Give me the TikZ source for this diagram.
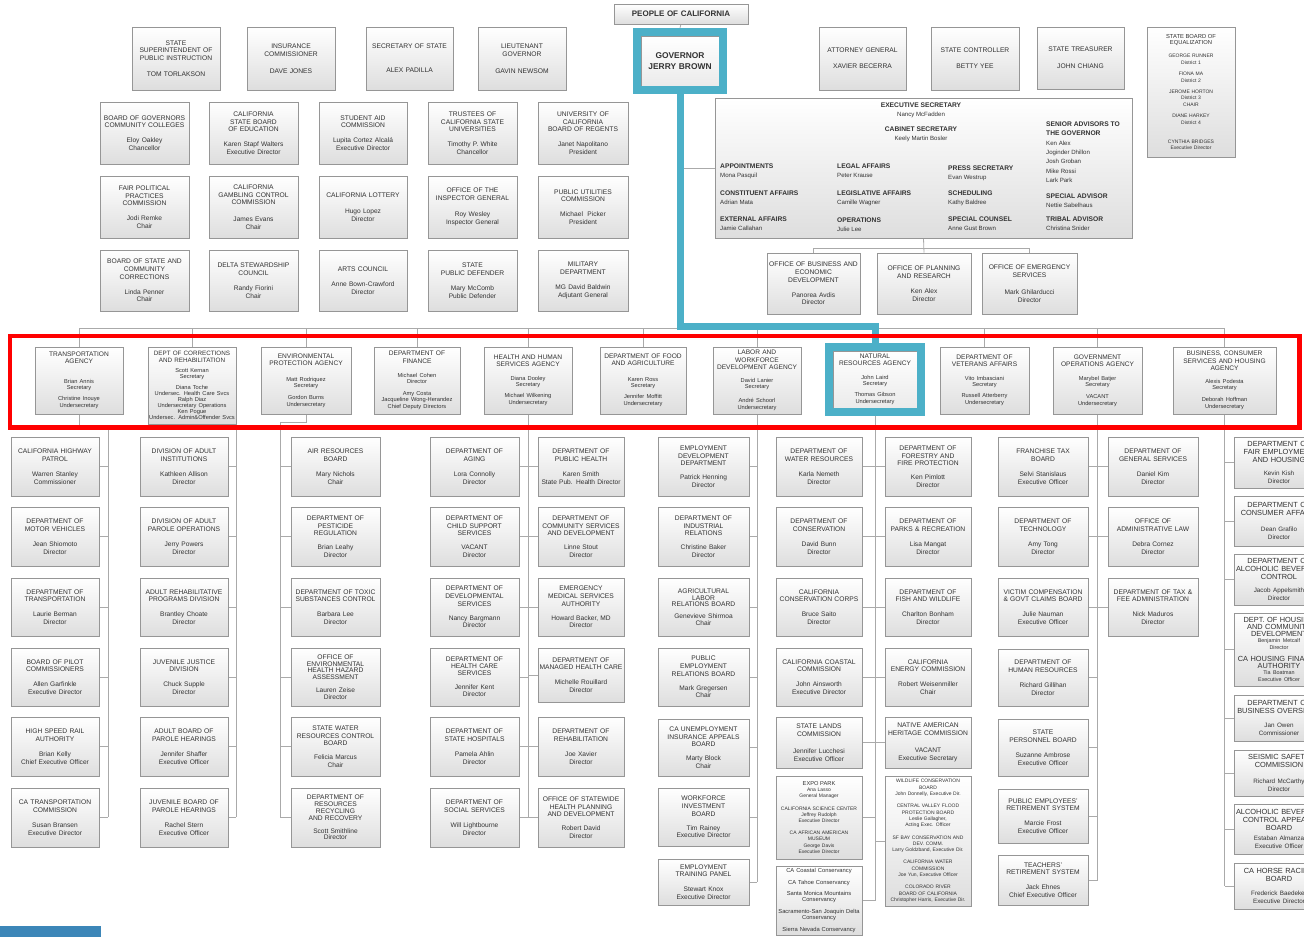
\documentclass[tikz,border=0pt]{standalone}
\usepackage{fontspec}
\setmainfont{Liberation Sans}
\usetikzlibrary{shadows}
\definecolor{tealc}{RGB}{76,176,200}
\definecolor{txt}{RGB}{50,50,50}
\definecolor{brd}{RGB}{150,150,150}
\definecolor{lnc}{RGB}{170,170,170}
\definecolor{barblue}{RGB}{60,134,184}
\newcommand\ftT{\fontsize{6.7}{7.8}\selectfont}
\newcommand\ftN{\fontsize{6.6}{7.8}\selectfont}
\newcommand\ftAT{\fontsize{6.6}{7.2}\selectfont}
\newcommand\ftAN{\fontsize{5.7}{6.3}\selectfont}
\newcommand\ftS{\fontsize{5}{6.2}\selectfont}
\newcommand\ftB{\fontsize{7.4}{7.6}\selectfont}
\newcommand\ftBN{\fontsize{6.3}{7.6}\selectfont}
\newcommand\ftEN{\fontsize{6.1}{9.4}\selectfont}
\newcommand\eh[1]{{\bfseries\fontsize{6.7}{9.4}\selectfont #1}}
\newcommand\tn[3][7pt]{#2\\[#1]{\ftN #3}}
\newcommand\bn[3][6pt]{#2\\[#1]{\ftBN #3}}
\newcommand\orgb[7][]{%
  \pgfmathsetmacro\obw{#5-#3}%
  \pgfmathsetmacro\obh{#6-#4}%
  \pgfmathsetmacro\obx{(#3+#5)/2}%
  \pgfmathsetmacro\oby{(#4+#6)/2}%
  \node[ob,text width=\obw pt,minimum width=\obw pt,minimum height=\obh pt,#1] (#2) at (\obx,\oby) {#7};}
\pgfdeclarelayer{bg}
\pgfdeclarelayer{lines}
\pgfdeclarelayer{teal}
\pgfdeclarelayer{top}
\pgfsetlayers{bg,lines,teal,main,top}
\tikzset{
  ob/.style={draw=brd, line width=0.6pt, top color=white, bottom color=black!13,
    inner xsep=0pt, inner ysep=0pt, align=center, text=txt, font=\ftT,
    drop shadow={shadow xshift=0.9pt, shadow yshift=-0.9pt, fill=black, opacity=0.22}},
  cn/.style={draw=lnc, line width=0.8pt},
  tealline/.style={draw=tealc, line width=7pt},
  tealframe/.style={draw=tealc, line width=7.6pt},
  lbl/.style={inner sep=0pt, align=left, text=txt, font=\ftEN, anchor=north west},
  lblc/.style={inner sep=0pt, align=center, text=txt, font=\ftEN, anchor=north},
}
\begin{document}
\begin{tikzpicture}[x=1pt,y=-1pt]
\useasboundingbox (0,0) rectangle (1304,937);
\begin{pgfonlayer}{bg}\fill[white] (0,0) rectangle (1304,937);\end{pgfonlayer}

% ---------- top ----------
\orgb[font=\bfseries\fontsize{8}{9}\selectfont]{people}{614}{4}{748}{24}{PEOPLE OF CALIFORNIA}
\orgb[font=\bfseries\fontsize{8.4}{10.5}\selectfont, bottom color=black!8]{gov}{641}{36}{719}{86}{GOVERNOR\\JERRY BROWN}

\orgb{ssp}{132}{27}{220}{90}{STATE\\SUPERINTENDENT OF\\PUBLIC INSTRUCTION\\[8pt]TOM TORLAKSON}
\orgb{ins}{247}{27}{335}{90}{INSURANCE\\COMMISSIONER\\[9pt]DAVE JONES}
\orgb{sos}{366}{27}{453}{90}{SECRETARY OF STATE\\[16pt]ALEX PADILLA}
\orgb{ltg}{478}{27}{566}{90}{LIEUTENANT\\GOVERNOR\\[9pt]GAVIN NEWSOM}
\orgb{ag}{819}{27}{906}{90}{ATTORNEY GENERAL\\[8pt]XAVIER BECERRA}
\orgb{sc}{931}{27}{1019}{90}{STATE CONTROLLER\\[8pt]BETTY YEE}
\orgb{st}{1037}{27}{1124}{89}{STATE TREASURER\\[9pt]JOHN CHIANG}
\orgb[font=\ftS]{boe}{1147}{27}{1235}{157}{{\fontsize{5.8}{7.6}\selectfont STATE BOARD OF\\EQUALIZATION}\\[7pt]GEORGE RUNNER\\District 1\\[5.5pt]FIONA MA\\District 2\\[5.5pt]JEROME HORTON\\District 3\\CHAIR\\[5.5pt]DIANE HARKEY\\District 4\\[13pt]CYNTHIA BRIDGES\\Executive Director}

\orgb{bgcc}{100}{102}{189}{164}{\tn{BOARD OF GOVERNORS\\COMMUNITY COLLEGES}{Eloy Oakley\\Chancellor}}
\orgb{csbe}{209}{102}{298}{164}{\tn{CALIFORNIA\\STATE BOARD\\OF EDUCATION}{Karen Stapf Walters\\Executive Director}}
\orgb{sac}{319}{102}{407}{164}{\tn{STUDENT AID\\COMMISSION}{Lupita Cortez Alcalá\\Executive Director}}
\orgb{csu}{428}{102}{517}{164}{\tn{TRUSTEES OF\\CALIFORNIA STATE\\UNIVERSITIES}{Timothy P. White\\Chancellor}}
\orgb{uc}{538}{102}{628}{164}{\tn{UNIVERSITY OF\\CALIFORNIA\\BOARD OF REGENTS}{Janet Napolitano\\President}}

\orgb{fppc}{100}{176}{189}{238}{\tn{FAIR POLITICAL\\PRACTICES\\COMMISSION}{Jodi Remke\\Chair}}
\orgb{gcc}{209}{176}{298}{238}{\tn[9pt]{CALIFORNIA\\GAMBLING CONTROL\\COMMISSION}{James Evans\\Chair}}
\orgb{lot}{319}{176}{407}{238}{\tn[9pt]{CALIFORNIA LOTTERY}{Hugo Lopez\\Director}}
\orgb{oig}{428}{176}{517}{238}{\tn[8pt]{OFFICE OF THE\\INSPECTOR GENERAL}{Roy Wesley\\Inspector General}}
\orgb{puc}{538}{176}{628}{238}{\tn[7pt]{PUBLIC UTILITIES\\COMMISSION}{Michael\ \ Picker\\President}}

\orgb{bscc}{100}{250}{189}{311}{\tn{BOARD OF STATE AND\\COMMUNITY\\CORRECTIONS}{Linda Penner\\Chair}}
\orgb{dsc}{209}{250}{298}{311}{\tn{DELTA STEWARDSHIP\\COUNCIL}{Randy Fiorini\\Chair}}
\orgb{arts}{319}{250}{407}{311}{\tn{ARTS COUNCIL}{Anne Bown-Crawford\\Director}}
\orgb{spd}{428}{250}{517}{311}{\tn{STATE\\PUBLIC DEFENDER}{Mary McComb\\Public Defender}}
\orgb{mil}{538}{250}{628}{311}{\tn{MILITARY\\DEPARTMENT}{MG David Baldwin\\Adjutant General}}

% executive box
\orgb{exec}{715}{98}{1132}{238}{}
\node[lblc] (t-es) at (921,102.5) {\eh{EXECUTIVE SECRETARY}\\Nancy McFadden};
\node[lblc] (t-cs) at (921,126.5) {\eh{CABINET SECRETARY}\\Keely Martin Bosler};
\node[lbl] (t-ap) at (720,163.5) {\eh{APPOINTMENTS}\\Mona Pasquil};
\node[lbl] (t-ca) at (720,190.5) {\eh{CONSTITUENT AFFAIRS}\\Adrian Mata};
\node[lbl] (t-ea) at (720,216.5) {\eh{EXTERNAL AFFAIRS}\\Jamie Callahan};
\node[lbl] (t-la) at (837,163.5) {\eh{LEGAL AFFAIRS}\\Peter Krause};
\node[lbl] (t-lg) at (837,190.5) {\eh{LEGISLATIVE AFFAIRS}\\Camille Wagner};
\node[lbl] (t-op) at (837,217.5) {\eh{OPERATIONS}\\Julie Lee};
\node[lbl] (t-ps) at (948,165.5) {\eh{PRESS SECRETARY}\\Evan Westrup};
\node[lbl] (t-sh) at (948,190.5) {\eh{SCHEDULING}\\Kathy Baldree};
\node[lbl] (t-sp) at (948,216.5) {\eh{SPECIAL COUNSEL}\\Anne Gust Brown};
\node[lbl] (t-sa) at (1046,121.5) {\eh{SENIOR ADVISORS TO}\\\eh{THE GOVERNOR}\\Ken Alex\\Joginder Dhillon\\Josh Groban\\Mike Rossi\\Lark Park};
\node[lbl] (t-sv) at (1046,193.5) {\eh{SPECIAL ADVISOR}\\Nettie Sabelhaus};
\node[lbl] (t-tr) at (1046,216.5) {\eh{TRIBAL ADVISOR}\\Christina Snider};

\orgb{obed}{767}{253}{860}{314}{\tn{OFFICE OF BUSINESS AND\\ECONOMIC\\DEVELOPMENT}{Panorea Avdis\\Director}}
\orgb{opr}{877}{253}{971}{314}{\tn{OFFICE OF PLANNING\\AND RESEARCH}{Ken Alex\\Director}}
\orgb{oes}{982}{253}{1077}{314}{\tn[9pt]{OFFICE OF EMERGENCY\\SERVICES}{Mark Ghilarducci\\Director}}

% ---------- agencies ----------
\orgb[font=\ftAT]{tra}{35}{347}{123}{414}{TRANSPORTATION\\AGENCY\\[13pt]{\ftAN Brian Annis\\Secretary\\[5pt]Christine Inouye\\Undersecretary}}
\orgb[font=\fontsize{6.3}{6.4}\selectfont]{corr}{148}{347}{236}{424}{DEPT OF CORRECTIONS\\AND REHABILITATION\\[5pt]{\fontsize{5.7}{5.9}\selectfont Scott Kernan\\Secretary\\[5pt]Diana Toche\\Undersec. Health Care Svcs\\Ralph Diaz\\Undersecretary Operations\\Ken Pogue\\Undersec. Admin\&Offender Svcs}}
\orgb[font=\ftAT]{env}{261}{347}{351}{414}{ENVIRONMENTAL\\PROTECTION AGENCY\\[10pt]{\ftAN Matt Rodriquez\\Secretary\\[5pt]Gordon Burns\\Undersecretary}}
\orgb[font=\ftAT]{fin}{374}{347}{460}{414}{DEPARTMENT OF\\FINANCE\\[8pt]{\ftAN Michael Cohen\\Director\\[5pt]Amy Costa\\Jacqueline Wong-Herandez\\Chief Deputy Directors}}
\orgb[font=\ftAT]{hhs}{484}{347}{572}{414}{HEALTH AND HUMAN\\SERVICES AGENCY\\[7pt]{\ftAN Diana Dooley\\Secretary\\[5pt]Michael Wilkening\\Undersecretary}}
\orgb[font=\ftAT]{food}{600}{347}{686}{414}{DEPARTMENT OF FOOD\\AND AGRICULTURE\\[9pt]{\ftAN Karen Ross\\Secretary\\[5pt]Jennifer Moffitt\\Undersecretary}}
\orgb[font=\ftAT]{labor}{713}{347}{801}{414}{LABOR AND\\WORKFORCE\\DEVELOPMENT AGENCY\\[7pt]{\ftAN David Lanier\\Secretary\\[7pt]André Schoorl\\Undersecretary}}
\orgb[font=\ftAT, bottom color=black!8]{nra}{833}{351}{917}{408}{NATURAL\\RESOURCES AGENCY\\[7pt]{\ftAN John Laird\\Secretary\\[5pt]Thomas Gibson\\Undersecretary}}
\orgb[font=\ftAT]{vet}{940}{347}{1029}{414}{DEPARTMENT OF\\VETERANS AFFAIRS\\[7pt]{\ftAN Vito Imbasciani\\Secretary\\[5pt]Russell Atterberry\\Undersecretary}}
\orgb[font=\ftAT]{gops}{1053}{347}{1142}{414}{GOVERNMENT\\OPERATIONS AGENCY\\[8pt]{\ftAN Marybel Batjer\\Secretary\\[5pt]VACANT\\Undersecretary}}
\orgb[font=\ftAT]{bus}{1173}{347}{1276}{414}{BUSINESS, CONSUMER\\SERVICES AND HOUSING\\AGENCY\\[7pt]{\ftAN Alexis Podesta\\Secretary\\[5pt]Deborah Hoffman\\Undersecretary}}

% ---------- transportation column ----------
\orgb{tb1}{11}{437}{99}{496}{\tn{CALIFORNIA HIGHWAY\\PATROL}{Warren Stanley\\Commissioner}}
\orgb{tb2}{11}{507}{99}{566}{\tn{DEPARTMENT OF\\MOTOR VEHICLES}{Jean Shiomoto\\Director}}
\orgb{tb3}{11}{578}{99}{636}{\tn{DEPARTMENT OF\\TRANSPORTATION}{Laurie Berman\\Director}}
\orgb{tb4}{11}{648}{99}{706}{\tn{BOARD OF PILOT\\COMMISSIONERS}{Allen Garfinkle\\Executive Director}}
\orgb{tb5}{11}{717}{99}{776}{\tn{HIGH SPEED RAIL\\AUTHORITY}{Brian Kelly\\Chief Executive Officer}}
\orgb{tb6}{11}{788}{99}{847}{\tn{CA TRANSPORTATION\\COMMISSION}{Susan Bransen\\Executive Director}}

% ---------- corrections column ----------
\orgb{cb1}{140}{437}{228}{496}{\tn{DIVISION OF ADULT\\INSTITUTIONS}{Kathleen Allison\\Director}}
\orgb{cb2}{140}{507}{228}{566}{\tn{DIVISION OF ADULT\\PAROLE OPERATIONS}{Jerry Powers\\Director}}
\orgb{cb3}{140}{578}{228}{636}{\tn{ADULT REHABILITATIVE\\PROGRAMS DIVISION}{Brantley Choate\\Director}}
\orgb{cb4}{140}{648}{228}{706}{\tn{JUVENILE JUSTICE\\DIVISION}{Chuck Supple\\Director}}
\orgb{cb5}{140}{717}{228}{776}{\tn{ADULT BOARD OF\\PAROLE HEARINGS}{Jennifer Shaffer\\Executive Officer}}
\orgb{cb6}{140}{788}{228}{847}{\tn{JUVENILE BOARD OF\\PAROLE HEARINGS}{Rachel Stern\\Executive Officer}}

% ---------- environmental column ----------
\orgb{eb1}{291}{437}{380}{496}{\tn{AIR RESOURCES\\BOARD}{Mary Nichols\\Chair}}
\orgb{eb2}{291}{507}{380}{566}{\tn[6pt]{DEPARTMENT OF\\PESTICIDE\\REGULATION}{Brian Leahy\\Director}}
\orgb{eb3}{291}{578}{380}{636}{\tn{DEPARTMENT OF TOXIC\\SUBSTANCES CONTROL}{Barbara Lee\\Director}}
\orgb[font=\fontsize{6.7}{6.8}\selectfont]{eb4}{291}{648}{380}{706}{OFFICE OF\\ENVIRONMENTAL\\HEALTH HAZARD\\ASSESSMENT\\[6pt]{\fontsize{6.6}{7}\selectfont Lauren Zeise\\Director}}
\orgb{eb5}{291}{717}{380}{776}{\tn[6pt]{STATE WATER\\RESOURCES CONTROL\\BOARD}{Felicia Marcus\\Chair}}
\orgb[font=\fontsize{6.7}{6.8}\selectfont]{eb6}{291}{788}{380}{847}{DEPARTMENT OF\\RESOURCES\\RECYCLING\\AND RECOVERY\\[6pt]{\fontsize{6.6}{7}\selectfont Scott Smithline\\Director}}

% ---------- HHS ----------
\orgb{hl1}{430}{437}{519}{496}{\tn{DEPARTMENT OF\\AGING}{Lora Connolly\\Director}}
\orgb{hl2}{430}{507}{519}{566}{\tn[6pt]{DEPARTMENT OF\\CHILD SUPPORT\\SERVICES}{VACANT\\Director}}
\orgb{hl3}{430}{578}{519}{636}{\tn[6pt]{DEPARTMENT OF\\DEVELOPMENTAL\\SERVICES}{Nancy Bargmann\\Director}}
\orgb[font=\fontsize{6.7}{7}\selectfont]{hl4}{430}{648}{519}{706}{\tn[6pt]{DEPARTMENT OF\\HEALTH CARE\\SERVICES}{Jennifer Kent\\Director}}
\orgb{hl5}{430}{717}{519}{776}{\tn{DEPARTMENT OF\\STATE HOSPITALS}{Pamela Ahlin\\Director}}
\orgb{hl6}{430}{788}{519}{847}{\tn{DEPARTMENT OF\\SOCIAL SERVICES}{Will Lightbourne\\Director}}
\orgb{hr1}{538}{437}{624}{496}{\tn{DEPARTMENT OF\\PUBLIC HEALTH}{Karen Smith\\State Pub. Health Director}}
\orgb{hr2}{538}{507}{624}{566}{\tn[6pt]{DEPARTMENT OF\\COMMUNITY SERVICES\\AND DEVELOPMENT}{Linne Stout\\Director}}
\orgb{hr3}{538}{578}{624}{636}{\tn[6pt]{EMERGENCY\\MEDICAL SERVICES\\AUTHORITY}{Howard Backer, MD\\Director}}
\orgb{hr4}{538}{648}{624}{702}{\tn{DEPARTMENT OF\\MANAGED HEALTH CARE}{Michelle Rouillard\\Director}}
\orgb{hr5}{538}{717}{624}{776}{\tn{DEPARTMENT OF\\REHABILITATION}{Joe Xavier\\Director}}
\orgb{hr6}{538}{788}{624}{847}{\tn[6pt]{OFFICE OF STATEWIDE\\HEALTH PLANNING\\AND DEVELOPMENT}{Robert David\\Director}}

% ---------- labor ----------
\orgb{lb1}{658}{437}{749}{496}{\tn[6pt]{EMPLOYMENT\\DEVELOPMENT\\DEPARTMENT}{Patrick Henning\\Director}}
\orgb{lb2}{658}{507}{749}{566}{\tn[6pt]{DEPARTMENT OF\\INDUSTRIAL\\RELATIONS}{Christine Baker\\Director}}
\orgb[font=\fontsize{6.7}{6.8}\selectfont]{lb3}{658}{578}{749}{636}{AGRICULTURAL\\LABOR\\RELATIONS BOARD\\[5pt]{\fontsize{6.6}{6.8}\selectfont Genevieve Shirmoa\\Chair}}
\orgb{lb4}{658}{648}{749}{706}{\tn[6pt]{PUBLIC\\EMPLOYMENT\\RELATIONS BOARD}{Mark Gregersen\\Chair}}
\orgb{lb5}{658}{719}{749}{776}{\tn[6pt]{CA UNEMPLOYMENT\\INSURANCE APPEALS\\BOARD}{Marty Block\\Chair}}
\orgb{lb6}{658}{788}{749}{846}{\tn[6pt]{WORKFORCE\\INVESTMENT\\BOARD}{Tim Rainey\\Executive Director}}
\orgb{lb7}{658}{859}{749}{905}{\tn{EMPLOYMENT\\TRAINING PANEL}{Stewart Knox\\Executive Director}}

% ---------- natural resources ----------
\orgb{nl1}{776}{437}{862}{496}{\tn{DEPARTMENT OF\\WATER RESOURCES}{Karla Nemeth\\Director}}
\orgb{nl2}{776}{507}{862}{566}{\tn{DEPARTMENT OF\\CONSERVATION}{David Bunn\\Director}}
\orgb{nl3}{776}{578}{862}{636}{\tn{CALIFORNIA\\CONSERVATION CORPS}{Bruce Saito\\Director}}
\orgb{nl4}{776}{648}{862}{706}{\tn{CALIFORNIA COASTAL\\COMMISSION}{John Ainsworth\\Executive Director}}
\orgb{nl5}{776}{717}{862}{768}{\tn[9pt]{STATE LANDS\\COMMISSION}{Jennifer Lucchesi\\Executive Officer}}
\orgb[font=\ftS]{nl6}{776}{776}{862}{859}{{\fontsize{5.7}{6.2}\selectfont EXPO PARK}\\Ana Lasso\\General Manager\\[6pt]CALIFORNIA SCIENCE CENTER\\Jeffrey Rudolph\\Executive Director\\[6pt]CA AFRICAN AMERICAN\\MUSEUM\\George Davis\\Executive Director}
\orgb[font=\fontsize{5.8}{6}\selectfont]{nl7}{776}{866}{862}{935}{CA Coastal Conservancy\\[6pt]CA Tahoe Conservancy\\[5pt]Santa Monica Mountains\\Conservancy\\[6pt]Sacramento-San Joaquin Delta\\Conservancy\\[6pt]Sierra Nevada Conservancy}
\orgb{nr1}{885}{437}{971}{496}{\tn[6pt]{DEPARTMENT OF\\FORESTRY AND\\FIRE PROTECTION}{Ken Pimlott\\Director}}
\orgb{nr2}{885}{507}{971}{566}{\tn{DEPARTMENT OF\\PARKS \& RECREATION}{Lisa Mangat\\Director}}
\orgb{nr3}{885}{578}{971}{636}{\tn{DEPARTMENT OF\\FISH AND WILDLIFE}{Charlton Bonham\\Director}}
\orgb{nr4}{885}{648}{971}{706}{\tn{CALIFORNIA\\ENERGY COMMISSION}{Robert Weisenmiller\\Chair}}
\orgb{nr5}{885}{717}{971}{768}{\tn[9pt]{NATIVE AMERICAN\\HERITAGE COMMISSION}{VACANT\\Executive Secretary}}
\orgb[font=\fontsize{5}{6.3}\selectfont]{nr6}{885}{776}{971}{906}{WILDLIFE CONSERVATION\\BOARD\\John Donnelly, Executive Dir.\\[6pt]CENTRAL VALLEY FLOOD\\PROTECTION BOARD\\Leslie Gallagher,\\Acting Exec. Officer\\[6pt]SF BAY CONSERVATION AND\\DEV. COMM.\\Larry Goldzband, Executive Dir.\\[6pt]CALIFORNIA WATER\\COMMISSION\\Joe Yun, Executive Officer\\[6pt]COLORADO RIVER\\BOARD OF CALIFORNIA\\Christopher Harris, Executive Dir.}

% ---------- government operations ----------
\orgb{gl1}{998}{437}{1088}{496}{\tn{FRANCHISE TAX\\BOARD}{Selvi Stanislaus\\Executive Officer}}
\orgb{gl2}{998}{507}{1088}{566}{\tn{DEPARTMENT OF\\TECHNOLOGY}{Amy Tong\\Director}}
\orgb{gl3}{998}{578}{1088}{636}{\tn{VICTIM COMPENSATION\\\& GOVT CLAIMS BOARD}{Julie Nauman\\Executive Officer}}
\orgb{gl4}{998}{649}{1088}{706}{\tn{DEPARTMENT OF\\HUMAN RESOURCES}{Richard Gillihan\\Director}}
\orgb{gl5}{998}{719}{1088}{776}{\tn{STATE\\PERSONNEL BOARD}{Suzanne Ambrose\\Executive Officer}}
\orgb{gl6}{998}{789}{1088}{843}{\tn{PUBLIC EMPLOYEES'\\RETIREMENT SYSTEM}{Marcie Frost\\Executive Officer}}
\orgb{gl7}{998}{855}{1088}{905}{\tn{TEACHERS'\\RETIREMENT SYSTEM}{Jack Ehnes\\Chief Executive Officer}}
\orgb{gr1}{1108}{437}{1198}{496}{\tn{DEPARTMENT OF\\GENERAL SERVICES}{Daniel Kim\\Director}}
\orgb{gr2}{1108}{507}{1198}{566}{\tn{OFFICE OF\\ADMINISTRATIVE LAW}{Debra Cornez\\Director}}
\orgb{gr3}{1108}{578}{1198}{636}{\tn{DEPARTMENT OF TAX \&\\FEE ADMINISTRATION}{Nick Maduros\\Director}}

% ---------- business ----------
\orgb[font=\ftB]{bb1}{1234}{437}{1324}{488}{\bn{DEPARTMENT OF\\FAIR EMPLOYMENT\\AND HOUSING}{Kevin Kish\\Director}}
\orgb[font=\ftB]{bb2}{1234}{496}{1324}{546}{\bn[9pt]{DEPARTMENT OF\\CONSUMER AFFAIRS}{Dean Grafilo\\Director}}
\orgb[font=\ftB]{bb3}{1234}{554}{1324}{605}{\bn{DEPARTMENT OF\\ALCOHOLIC BEVERAGE\\CONTROL}{Jacob Appelsmith\\Director}}
\orgb[font=\fontsize{7.4}{7.1}\selectfont]{bb4}{1234}{613}{1324}{686}{DEPT. OF HOUSING\\AND COMMUNITY\\DEVELOPMENT\\{\fontsize{5.4}{6.1}\selectfont Benjamin Metcalf\\Director}\\[5pt]CA HOUSING FINANCE\\AUTHORITY\\{\fontsize{5.4}{6.1}\selectfont Tia Boatman\\Executive Officer}}
\orgb[font=\ftB]{bb5}{1234}{695}{1324}{741}{\bn[7pt]{DEPARTMENT OF\\BUSINESS OVERSIGHT}{Jan Owen\\Commissioner}}
\orgb[font=\ftB]{bb6}{1234}{750}{1324}{796}{\bn[9pt]{SEISMIC SAFETY\\COMMISSION}{Richard McCarthy\\Director}}
\orgb[font=\ftB]{bb7}{1234}{804}{1324}{854}{\bn[3pt]{ALCOHOLIC BEVERAGE\\CONTROL APPEALS\\BOARD}{Estaban Almanza\\Executive Officer}}
\orgb[font=\ftB]{bb8}{1234}{863}{1324}{909}{\bn[7pt]{CA HORSE RACING\\BOARD}{Frederick Baedeker\\Executive Director}}

% teal frames
\draw[tealframe] ([xshift=-3.9pt,yshift=3.9pt]gov.north west) rectangle ([xshift=3.9pt,yshift=-3.5pt]gov.south east);
\draw[tealframe] ([xshift=-3.9pt,yshift=3.9pt]nra.north west) rectangle ([xshift=3.9pt,yshift=-3.9pt]nra.south east);

% ---------- connectors ----------
\coordinate (abar) at (0,328);
\coordinate (y817) at (0,817);
\coordinate (trEnd) at (108,817);
\coordinate (enEnd) at (280,817);
\coordinate (tcorner) at (0,326);
\begin{pgfonlayer}{lines}
\draw[cn] (people.south) -- ([yshift=8pt]gov.north);
\draw[cn] (exec.west) -- (exec.west -| gov.south);
\draw[cn] (exec.south) -- (opr.north);
\draw[cn] (obed.north) -- ++(0,-4) -| (oes.north);
\draw[cn] (tra.north) |- (bus.north |- abar) -- (bus.north);
\foreach \a in {corr,env,fin,hhs,food,labor,vet,gops} \draw[cn] (\a.north) -- (\a.north |- abar);
% spines
\draw[cn] (tra.south) -- ++(0,13) -| (trEnd);
\draw[cn] (corr.south east) -- (corr.south east |- y817);
\draw[cn] (env.south) -- ++(0,8) -| (enEnd);
\draw[cn] (hhs.south) -- (hhs.south |- hl6.east);
\draw[cn] (labor.south) -- (labor.south |- lb7.east);
\draw[cn] (nra.south) -- (nra.south |- nl7.east);
\draw[cn] (gops.south) -- (gops.south |- gl7.east);
\draw[cn] (bus.south) -- (bus.south |- bb8.west);
% stubs
\foreach \b in {tb1,tb2,tb3,tb4,tb5,tb6} \draw[cn] (\b.east) -- (\b.east -| trEnd);
\foreach \b in {cb1,cb2,cb3,cb4,cb5,cb6} \draw[cn] (\b.east) -- (\b.east -| corr.south east);
\foreach \b in {eb1,eb2,eb3,eb4,eb5,eb6} \draw[cn] (\b.west) -- (\b.west -| enEnd);
\foreach \b in {hl1,hl2,hl3,hl4,hl5,hl6} \draw[cn] (\b.east) -- (\b.east -| hhs.south);
\foreach \b in {hr1,hr2,hr3,hr4,hr5,hr6} \draw[cn] (\b.west) -- (\b.west -| hhs.south);
\foreach \b in {lb1,lb2,lb3,lb4,lb5,lb6,lb7} \draw[cn] (\b.east) -- (\b.east -| labor.south);
\foreach \b in {nl1,nl2,nl3,nl4,nl5,nl6,nl7} \draw[cn] (\b.east) -- (\b.east -| nra.south);
\foreach \b in {nr1,nr2,nr3,nr4,nr5,nr6} \draw[cn] (\b.west) -- (\b.west -| nra.south);
\foreach \b in {gl1,gl2,gl3,gl4,gl5,gl6,gl7} \draw[cn] (\b.east) -- (\b.east -| gops.south);
\foreach \b in {gr1,gr2,gr3} \draw[cn] (\b.west) -- (\b.west -| gops.south);
\foreach \b in {bb1,bb2,bb3,bb4,bb5,bb6,bb7,bb8} \draw[cn] (\b.west) -- (\b.west -| bus.south);
\end{pgfonlayer}

\begin{pgfonlayer}{teal}
\draw[tealline] ([yshift=-7pt]gov.south) -- (gov.south |- tcorner) -| ([yshift=7pt]nra.north);
\end{pgfonlayer}

\begin{pgfonlayer}{top}
\draw[red, line width=4.6pt] (10,336) rectangle (1299.5,427.5);
\fill[barblue] (0,926) rectangle (101,937);
\end{pgfonlayer}
\end{tikzpicture}
\end{document}
